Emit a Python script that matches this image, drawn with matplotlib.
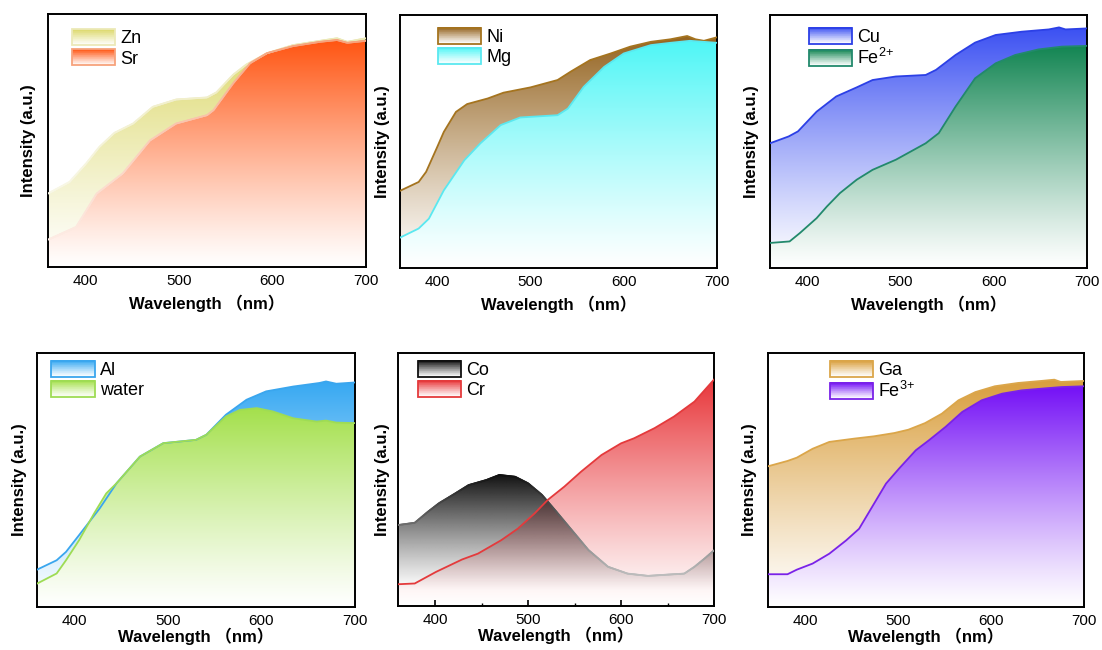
import numpy as np
import matplotlib
matplotlib.use("Agg")
import matplotlib.pyplot as plt
from matplotlib.patches import Patch, Rectangle
from matplotlib.legend_handler import HandlerBase
from matplotlib.colors import to_rgb
from matplotlib.ticker import MultipleLocator

plt.rcParams['font.family'] = ['Liberation Sans', 'Noto Sans CJK SC', 'DejaVu Sans']
plt.rcParams['mathtext.fontset'] = 'custom'
plt.rcParams['mathtext.rm'] = 'Liberation Sans'
plt.rcParams['mathtext.it'] = 'Liberation Sans'

# absorbance-like spectra, intensity in arbitrary units (0..1)
zn_x = [360, 383, 401, 415, 431, 451, 472, 497, 530, 540, 558, 572, 594, 622, 651, 669, 680, 700]
zn_y = [0.29, 0.336, 0.41, 0.475, 0.53, 0.567, 0.633, 0.662, 0.67, 0.69, 0.76, 0.80, 0.845, 0.877, 0.894, 0.904, 0.89, 0.904]
sr_x = [360, 390, 412, 440, 469, 497, 530, 537, 558, 576, 594, 622, 651, 669, 680, 700]
sr_y = [0.108, 0.158, 0.29, 0.37, 0.50, 0.567, 0.60, 0.62, 0.726, 0.805, 0.845, 0.873, 0.89, 0.897, 0.886, 0.894]

ni_x = [360, 380, 388, 400, 407, 420, 432, 454, 471, 500, 529, 543, 564, 586, 607, 629, 650, 668, 677, 686, 700]
ni_y = [0.305, 0.34, 0.38, 0.479, 0.538, 0.617, 0.648, 0.67, 0.693, 0.714, 0.743, 0.776, 0.822, 0.848, 0.875, 0.894, 0.904, 0.917, 0.904, 0.898, 0.912]
mg_x = [360, 380, 391, 407, 429, 446, 468, 489, 529, 540, 557, 579, 600, 629, 650, 671, 700]
mg_y = [0.12, 0.156, 0.195, 0.307, 0.426, 0.492, 0.565, 0.595, 0.604, 0.63, 0.716, 0.795, 0.848, 0.881, 0.89, 0.898, 0.89]

cu_x = [360, 380, 390, 410, 431, 453, 470, 495, 527, 538, 559, 580, 602, 630, 659, 670, 677, 700]
cu_y = [0.493, 0.52, 0.54, 0.618, 0.678, 0.714, 0.743, 0.757, 0.763, 0.783, 0.842, 0.891, 0.921, 0.934, 0.943, 0.951, 0.943, 0.947]
fe2_x = [360, 381, 392, 410, 421, 435, 453, 470, 495, 527, 541, 559, 580, 602, 623, 648, 673, 700]
fe2_y = [0.099, 0.105, 0.138, 0.197, 0.243, 0.296, 0.349, 0.388, 0.428, 0.493, 0.533, 0.638, 0.75, 0.809, 0.842, 0.864, 0.875, 0.878]

al_x = [360, 381, 391, 405, 427, 445, 470, 495, 530, 541, 562, 584, 605, 634, 662, 669, 680, 700]
al_y = [0.147, 0.184, 0.217, 0.283, 0.388, 0.487, 0.592, 0.645, 0.658, 0.678, 0.757, 0.816, 0.849, 0.868, 0.882, 0.888, 0.879, 0.884]
water_x = [360, 381, 391, 405, 421, 434, 445, 470, 495, 530, 541, 562, 577, 595, 612, 634, 659, 669, 680, 700]
water_y = [0.092, 0.132, 0.184, 0.263, 0.368, 0.447, 0.487, 0.592, 0.645, 0.658, 0.678, 0.75, 0.776, 0.783, 0.77, 0.743, 0.73, 0.734, 0.726, 0.724]

co_x = [360, 378, 392, 404, 422, 436, 455, 469, 486, 500, 515, 529, 547, 565, 586, 607, 629, 650, 668, 679, 690, 700]
co_y = [0.32, 0.329, 0.372, 0.406, 0.446, 0.478, 0.498, 0.518, 0.511, 0.485, 0.439, 0.379, 0.30, 0.221, 0.155, 0.128, 0.119, 0.124, 0.128, 0.155, 0.188, 0.22]
cr_x = [360, 378, 401, 429, 446, 471, 489, 507, 521, 539, 557, 579, 600, 614, 636, 657, 679, 700]
cr_y = [0.086, 0.089, 0.135, 0.184, 0.207, 0.26, 0.306, 0.366, 0.419, 0.472, 0.531, 0.597, 0.643, 0.663, 0.703, 0.749, 0.808, 0.895]

ga_x = [360, 381, 391, 408, 426, 453, 474, 496, 511, 529, 547, 565, 583, 604, 629, 654, 668, 675, 700]
ga_y = [0.554, 0.575, 0.588, 0.623, 0.65, 0.663, 0.672, 0.685, 0.698, 0.724, 0.761, 0.814, 0.846, 0.869, 0.882, 0.89, 0.895, 0.886, 0.89]
fe3_x = [360, 381, 391, 408, 426, 444, 458, 472, 487, 501, 519, 533, 551, 569, 590, 612, 633, 662, 676, 700]
fe3_y = [0.129, 0.129, 0.147, 0.171, 0.21, 0.262, 0.308, 0.394, 0.486, 0.545, 0.617, 0.656, 0.709, 0.768, 0.814, 0.84, 0.853, 0.862, 0.866, 0.869]

# (label, x, y, fill colour, edge colour, edge fades with the fill)
panels = [
    dict(box=(48, 14, 366, 267), leg=(0.075, 0.94), ypad=9, xpad=5, series=[
        ("Zn", zn_x, zn_y, "#dcd86a", "#ece9b8", True),
        ("Sr", sr_x, sr_y, "#ff5512", "#f7a27c", True)]),
    dict(box=(400, 15, 717, 268), leg=(0.12, 0.95), ypad=7, xpad=5, series=[
        ("Ni", ni_x, ni_y, "#94631f", "#a5741f", False),
        ("Mg", mg_x, mg_y, "#4ef6f6", "#5ae8f0", False)]),
    dict(box=(770, 15, 1087, 268), leg=(0.122, 0.95), ypad=8, xpad=5, series=[
        ("Cu", cu_x, cu_y, "#3b50f2", "#2c40e6", False),
        ("Fe$^{2\\!+}$", fe2_x, fe2_y, "#128552", "#22896c", False)]),
    dict(box=(37, 353, 355, 607), leg=(0.045, 0.97), ypad=7, xpad=0, series=[
        ("Al", al_x, al_y, "#36a8f2", "#3aa6ee", False),
        ("water", water_x, water_y, "#a4e04c", "#9edc54", False)]),
    dict(box=(398, 353, 714, 606), leg=(0.062, 0.97), ypad=6, xpad=0, series=[
        ("Co", co_x, co_y, "#101010", "#101010", True),
        ("Cr", cr_x, cr_y, "#e8363a", "#e43a3c", False)]),
    dict(box=(768, 353, 1084, 607), leg=(0.195, 0.97), ypad=8, xpad=0, series=[
        ("Ga", ga_x, ga_y, "#d99e3c", "#dba64a", False),
        ("Fe$^{3\\!+}$", fe3_x, fe3_y, "#7410f6", "#7a22e8", False)]),
]


def shade(color, a):
    rgb = np.array(to_rgb(color))
    return rgb * a + (1 - a)


class GradientHandler(HandlerBase):
    def create_artists(self, legend, orig, xd, yd, w, h, fontsize, trans):
        face = orig.get_facecolor()[:3]
        arts = []
        n = 24
        for i in range(n):
            a = ((i + 0.5) / n) ** 1.1
            arts.append(Rectangle((-xd, -yd + h * i / n), w, h / n * 1.6,
                                  facecolor=shade(face, a), edgecolor='none',
                                  transform=trans))
        arts.append(Rectangle((-xd, -yd), w, h, facecolor='none',
                              edgecolor=orig.get_edgecolor(), lw=1.3,
                              transform=trans))
        return arts


def gradient_fill(ax, x, y, color, z, see_through=False, floor=0.0):
    x = np.asarray(x, float)
    y = np.asarray(y, float)
    top = y.max()
    levels = np.linspace(0, top, 300)
    ramp = np.clip((levels - floor) / (top - floor), 0, 1) ** 1.15
    img = np.ones((300, 1, 4))
    if see_through:
        img[..., :3] = to_rgb(color)
        img[..., 3] = ramp[:, None]
    else:
        img[:, 0, :3] = shade(color, ramp[:, None])
    poly = ax.fill_between(x, y, 0, facecolor='none', edgecolor='none', zorder=z)
    im = ax.imshow(img, extent=[x.min(), x.max(), 0, top], origin='lower',
                   aspect='auto', interpolation='bilinear', zorder=z)
    im.set_clip_path(poly.get_paths()[0], transform=ax.transData)


def faded_line(ax, x, y, color, z):
    x = np.asarray(x, float)
    y = np.asarray(y, float)
    xs = np.linspace(x.min(), x.max(), 400)
    ys = np.interp(xs, x, y)
    top = y.max()
    for i in range(len(xs) - 1):
        a = 0.15 + 0.85 * min(1, ys[i] / top) ** 1.3
        ax.plot(xs[i:i + 2], ys[i:i + 2], color=shade(color, a), lw=1.3,
                solid_capstyle='round', zorder=z)


fig = plt.figure(figsize=(11.02, 6.5), dpi=100)
W, H = 1102, 650

for p in panels:
    l, t, r, b = p["box"]
    ax = fig.add_axes([l / W, 1 - b / H, (r - l) / W, (b - t) / H])
    upper, lower = p["series"]
    handles = [Patch(facecolor=s[3], edgecolor=s[4], label=s[0]) for s in p["series"]]

    if upper[0] == "Co":
        # the Co band sits over Cr and lets it show through
        gradient_fill(ax, lower[1], lower[2], lower[3], 1)
        gradient_fill(ax, upper[1], upper[2], upper[3], 2, see_through=True, floor=0.06)
    else:
        gradient_fill(ax, upper[1], upper[2], upper[3], 1)
        gradient_fill(ax, lower[1], lower[2], lower[3], 2)

    for k, (lab, x, y, fc, ec, fade) in enumerate(p["series"]):
        if fade:
            faded_line(ax, x, y, ec, 4 + k)
        else:
            ax.plot(x, y, color=ec, lw=1.3, zorder=4 + k)

    ax.set_xlim(360, 700)
    ax.set_ylim(0, 1)
    ax.set_yticks([])
    ax.xaxis.set_major_locator(MultipleLocator(100))
    ax.xaxis.set_minor_locator(MultipleLocator(50))
    ax.tick_params(axis='x', which='major', direction='in', length=4,
                   width=1.2, labelsize=11, pad=5)
    ax.tick_params(axis='x', which='minor', direction='in', length=2, width=1)
    for s in ax.spines.values():
        s.set_linewidth(1.4)
    ax.set_xlabel("Wavelength （nm）", fontsize=12, fontweight='bold', labelpad=p["xpad"])
    ax.set_ylabel("Intensity (a.u.)", fontsize=12, fontweight='bold', labelpad=p["ypad"])

    ax.legend(handles=handles, handler_map={Patch: GradientHandler()},
              loc='upper left', bbox_to_anchor=p["leg"],
              frameon=False, fontsize=13, handlelength=2.4, handleheight=1.0,
              labelspacing=0.1, handletextpad=0.3, borderpad=0,
              borderaxespad=0)

fig.savefig("out.png", dpi=100, facecolor='white')
